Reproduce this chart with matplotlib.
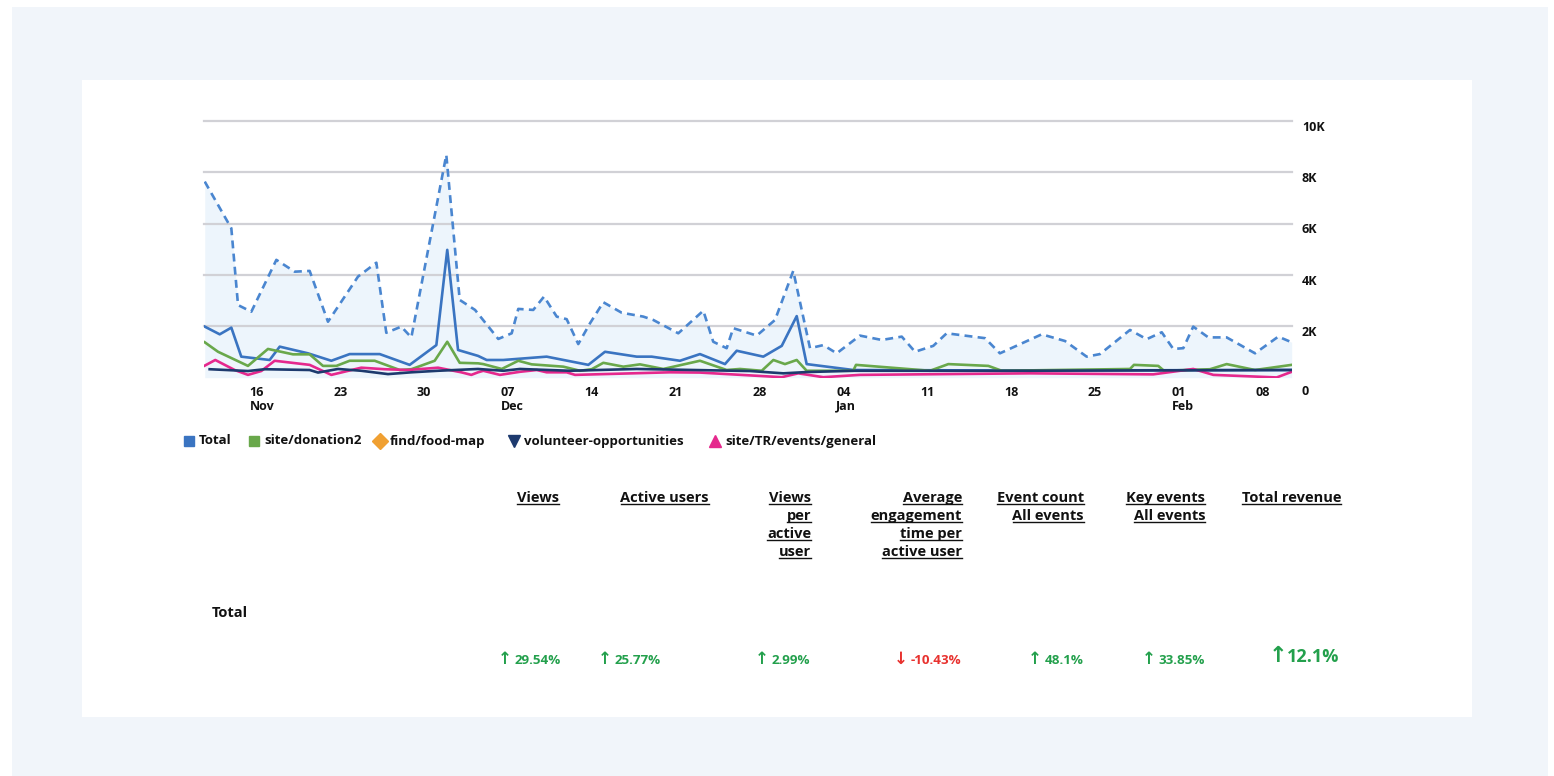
import matplotlib.pyplot as plt
import matplotlib.transforms as mtransforms

plt.rcParams['font.family'] = ['Open Sans', 'DejaVu Sans']

# x = days since 11 Nov; y = views
prev_days = [0.73, 2.95, 3.51, 4.62, 6.71, 8.24, 9.49, 11.02, 13.53, 15.06, 15.89, 17.14, 17.98,
             20.9, 22.02, 23.3, 25.24, 26.36, 26.91, 28.16, 29.06, 30.12, 30.95, 31.92, 32.9,
             34.01, 35.55, 37.35, 38.18, 40.27, 42.36, 43.19, 44.31, 44.86, 46.82, 48.35, 49.87,
             51.27, 52.38, 53.5, 55.44, 57.26, 58.93, 60.04, 61.56, 62.68, 65.88, 67.13, 70.62,
             72.56, 74.37, 75.48, 77.99, 79.38, 80.64, 81.6, 82.44, 83.27, 84.53, 86.06, 88.43,
             90.37, 91.49]
prev_vals = [7640, 5820, 2830, 2570, 4590, 4130, 4160, 2180, 3940, 4480, 1750, 1990, 1570,
             8680, 3030, 2640, 1510, 1730, 2680, 2640, 3160, 2380, 2280, 1310, 2120,
             2940, 2530, 2380, 2250, 1730, 2610, 1400, 1150, 1930, 1640, 2250, 4160,
             1150, 1270, 950, 1640, 1470, 1600, 1010, 1240, 1730, 1540, 950, 1690,
             1430, 820, 920, 1860, 1500, 1770, 1120, 1150, 1990, 1570, 1570, 950,
             1600, 1380]

total_days = [0.73, 1.98, 2.95, 3.78, 6.15, 6.99, 9.35, 11.3, 12.83, 15.34, 17.84, 20.07, 20.98,
              21.88, 23.55, 24.27, 25.66, 29.28, 32.76, 34.15, 36.8, 38.05, 40.41, 42.08, 44.17,
              45.15, 47.37, 48.91, 50.16, 50.99, 54.88, 67.97, 91.49]
total_vals = [1990, 1690, 1950, 820, 690, 1210, 950, 660, 920, 920, 500, 1270, 4980,
              1080, 850, 690, 690, 820, 500, 1010, 820, 820, 660, 920, 530,
              1050, 820, 1240, 2400, 530, 300, 280, 300]

donation_days = [0.73, 1.84, 4.34, 6.01, 8.1, 9.49, 10.6, 11.72, 12.83, 14.92, 17.01, 17.98, 19.93,
                 20.98, 22.02, 23.55, 23.99, 25.53, 26.91, 28.03, 30.67, 32.06, 33.04, 34.01,
                 35.68, 37.07, 39.02, 42.08, 44.31, 45.42, 47.24, 48.21, 49.18, 50.16, 50.99,
                 54.88, 55.11, 61.29, 62.82, 66.16, 67.28, 77.99, 78.32, 80.35, 80.83, 84.67,
                 86.06, 88.43, 91.49]
donation_vals = [1380, 1010, 460, 1120, 910, 910, 460, 460, 660, 660, 300, 330, 660,
                 1400, 580, 560, 530, 340, 660, 520, 430, 270, 330, 580,
                 430, 520, 340, 660, 300, 340, 270, 690, 530, 690, 270,
                 270, 500, 270, 530, 460, 270, 340, 500, 460, 270, 330,
                 530, 300, 500]

volunteer_days = [1.14, 4.34, 5.74, 9.49, 10.19, 11.86, 13.8, 16.03, 17.98, 20.21, 23.55, 25.66,
                  27.05, 31.23, 36.8, 46.26, 49.04, 50.99, 54.88, 67.97, 91.49]
volunteer_vals = [330, 260, 330, 300, 200, 340, 270, 140, 210, 270, 340, 270,
                  340, 270, 340, 260, 170, 220, 270, 270, 300]

events_days = [0.73, 1.61, 3.23, 4.34, 5.45, 6.57, 9.49, 11.3, 13.8, 15.76, 17.7, 20.21, 22.15,
               22.99, 23.55, 23.99, 25.38, 27.05, 28.45, 29.28, 30.95, 31.65, 39.58, 42.08,
               48.91, 50.29, 52.38, 55.44, 69.64, 79.93, 83.27, 84.95, 90.24, 91.49]
events_vals = [470, 690, 300, 110, 260, 660, 500, 110, 390, 330, 300, 390, 210,
               110, 210, 270, 110, 230, 300, 210, 210, 110, 210, 200,
               20, 170, 20, 110, 170, 130, 340, 110, 10, 230]

tick_days = [5, 12, 19, 26, 33, 40, 47, 54, 61, 68, 75, 82, 89]
tick_labels = ['16\nNov', '23', '30', '07\nDec', '14', '21', '28', '04\nJan', '11', '18', '25',
               '01\nFeb', '08']
y_ticks = [0, 2000, 4000, 6000, 8000, 10000]
y_labels = ['0', '2K', '4K', '6K', '8K', '10K']

legend_names = ['Total', 'site/donation2', 'find/food-map', 'volunteer-opportunities',
                'site/TR/events/general']
metric_headers = ['Views', 'Active users', 'Views\nper\nactive\nuser',
                  'Average\nengagement\ntime per\nactive user', 'Event count\nAll events',
                  'Key events\nAll events', 'Total revenue']
metric_changes = [29.54, 25.77, 2.99, -10.43, 48.1, 33.85, 12.1]

c_total = '#3a74c1'
c_prev = '#4a86d0'
c_fill = '#edf5fc'
c_green = '#69a84b'
c_orange = '#f0a032'
c_navy = '#1d3a6e'
c_pink = '#e5288d'
c_up = '#23a04c'
c_down = '#e8322f'
ink = '#111111'

W, H = 1554, 776
fig = plt.figure(figsize=(W / 100, H / 100), dpi=100)

# page background in pixel coordinates
bg = fig.add_axes([0, 0, 1, 1], zorder=0)
bg.set_xlim(0, W)
bg.set_ylim(H, 0)
bg.axis('off')
bg.add_patch(plt.Rectangle((12, 7), 1536, 776, color='#f1f5fa', lw=0))
bg.add_patch(plt.Rectangle((82, 80), 1390, 637, color='white', lw=0))

# chart
x0, x1 = 204, 1292
y_zero, y_top = 377.7, 121
ax = fig.add_axes([x0 / W, 1 - y_zero / H, (x1 - x0) / W, (y_zero - y_top) / H], zorder=1)
ax.set_facecolor('none')
ax.set_xlim((x0 - 196) / 11.976, (x1 - 196) / 11.976)
ax.set_ylim(0, 10000)
for s in ax.spines.values():
    s.set_visible(False)
ax.set_xticks([])
ax.set_yticks([])

for v in y_ticks[1:]:
    ax.axhline(v, color='#d1d1d6', lw=1.6, zorder=1, clip_on=False)

ax.fill_between(prev_days, prev_vals, 0, color=c_fill, lw=0, zorder=0)
ax.plot(prev_days, prev_vals, color=c_prev, lw=1.9, ls=(0, (3.0, 2.0)), zorder=2)
ax.plot(total_days, total_vals, color=c_total, lw=1.9, zorder=3)
ax.plot(donation_days, donation_vals, color=c_green, lw=1.9, zorder=4)
ax.plot(events_days, events_vals, color=c_pink, lw=1.9, zorder=5)
ax.plot(volunteer_days, volunteer_vals, color=c_navy, lw=1.9, zorder=6)

# x tick labels, left aligned under the day number
xtr = mtransforms.blended_transform_factory(ax.transData, ax.transAxes)
for d, lbl in zip(tick_days, tick_labels):
    t = mtransforms.offset_copy(xtr, fig=fig, x=-6.5, y=-8, units='dots')
    ax.text(d, 0, lbl, transform=t, ha='left', va='top', fontsize=9, fontweight='bold',
            color=ink, linespacing=1.1)

# y tick labels on the right
ytr = mtransforms.blended_transform_factory(ax.transAxes, ax.transData)
for v, lbl in zip(y_ticks, y_labels):
    dy = -14 if v == 0 else -6
    t = mtransforms.offset_copy(ytr, fig=fig, x=10, y=dy, units='dots')
    ax.text(1, v, lbl, transform=t, ha='left', va='center', fontsize=9, fontweight='bold',
            color=ink)

# legend
leg_x = [189, 254, 380, 514, 715]
leg_markers = ['s', 's', 'D', 'v', '^']
leg_colors = [c_total, c_green, c_orange, c_navy, c_pink]
for lx, name, mk, col in zip(leg_x, legend_names, leg_markers, leg_colors):
    bg.plot(lx, 441, marker=mk, color=col, ms=7 if mk == 's' else 8, ls='none')
    bg.text(lx + 10, 441, name, ha='left', va='center', fontsize=9.5, fontweight='bold', color=ink)

# metrics table
col_right = [559, 709, 811, 962, 1084, 1205, 1341]
value_right = [561, 661, 810, 961, 1084, 1205, 1339]
header_texts = []
for xr, head in zip(col_right, metric_headers):
    for i, line in enumerate(head.split('\n')):
        header_texts.append(bg.text(xr, 498 + 18 * i, line, ha='right', va='center', fontsize=10.5,
                                    fontweight='bold', color=ink))

bg.text(212, 613, 'Total', ha='left', va='center', fontsize=10.5, fontweight='bold', color=ink)

value_texts = []
for k, (xr, ch) in enumerate(zip(value_right, metric_changes)):
    col = c_up if ch >= 0 else c_down
    big = k == len(value_right) - 1
    yv = 657 if big else 660
    value_texts.append(bg.text(xr, yv, f'{ch:g}%', ha='right', va='center',
                               fontsize=13 if big else 9.6, fontweight='bold', color=col))

fig.canvas.draw()
inv = bg.transData.inverted()

# arrows just left of each change value
for k, (t, ch) in enumerate(zip(value_texts, metric_changes)):
    big = k == len(value_texts) - 1
    bb = t.get_window_extent()
    left = inv.transform([[bb.x0, bb.y0]])[0][0]
    bg.text(left - (9 if big else 10), t.get_position()[1] - 1, '\u2191' if ch >= 0 else '\u2193',
            ha='center', va='center', fontsize=16 if big else 12, fontweight='bold',
            color=t.get_color(), family='DejaVu Sans')

# underline the header lines
for t in header_texts:
    bb = t.get_window_extent()
    (ux0, uy), (ux1, _) = inv.transform([[bb.x0, bb.y0], [bb.x1, bb.y0]])
    bg.plot([ux0, ux1], [uy - 1.5, uy - 1.5], color=ink, lw=1.0)

fig.savefig('out.png', dpi=100)
